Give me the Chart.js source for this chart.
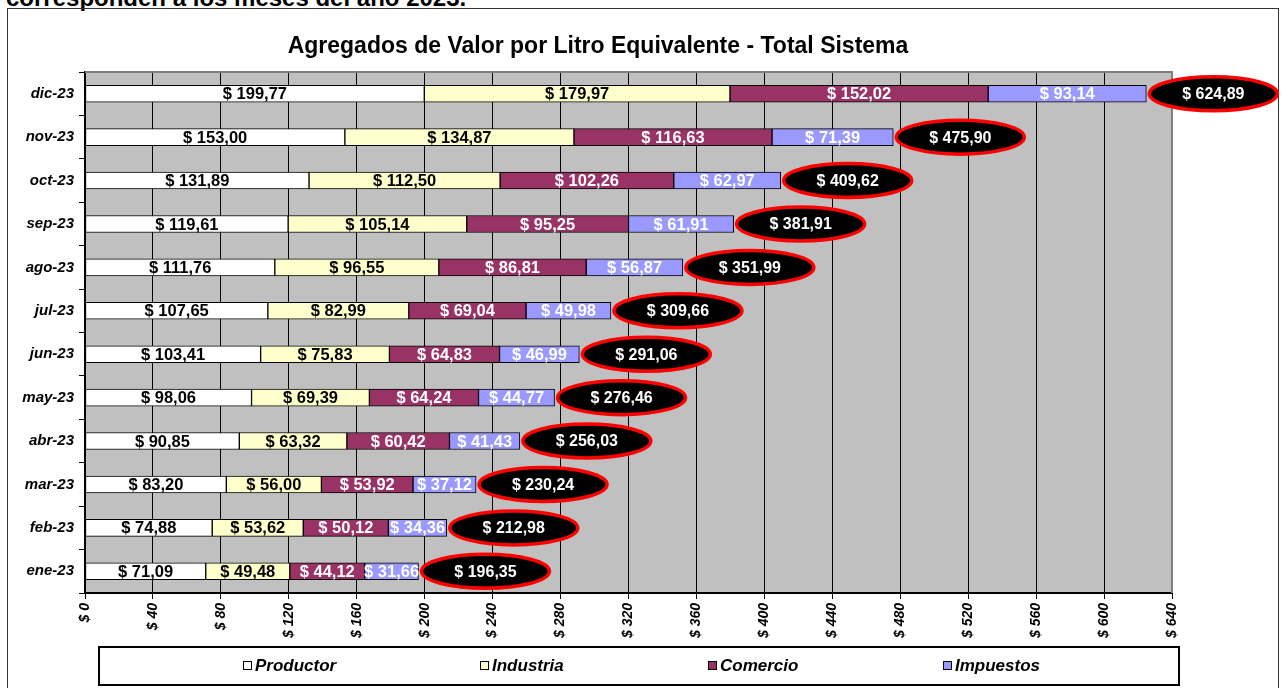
<!DOCTYPE html>
<html>
<head>
<meta charset="utf-8">
<script src="https://cdn.jsdelivr.net/npm/chart.js@4"></script>
<style>
  body { margin: 0; background: #fff; font-family: "Liberation Sans", Arial, sans-serif; }
  #top { position: absolute; left: 6px; top: -14px; font-size: 24px; font-weight: bold; line-height: 24px; white-space: nowrap; }
  #frame { position: absolute; left: 7px; top: 8px; width: 1270px; height: 700px; border: 1.5px solid #333; }
  canvas { position: absolute; left: 0; top: 0; }
</style>
</head>
<body>
<div id="top">corresponden a los meses del año 2023.</div>
<div id="frame"></div>
<canvas id="chart" width="1282" height="688"></canvas>
<script>
const months = ["dic-23", "nov-23", "oct-23", "sep-23", "ago-23", "jul-23", "jun-23", "may-23", "abr-23", "mar-23", "feb-23", "ene-23"];
const productor = [199.77, 153.00, 131.89, 119.61, 111.76, 107.65, 103.41, 98.06, 90.85, 83.20, 74.88, 71.09];
const industria = [179.97, 134.87, 112.50, 105.14, 96.55, 82.99, 75.83, 69.39, 63.32, 56.00, 53.62, 49.48];
const comercio = [152.02, 116.63, 102.26, 95.25, 86.81, 69.04, 64.83, 64.24, 60.42, 53.92, 50.12, 44.12];
const impuestos = [93.14, 71.39, 62.97, 61.91, 56.87, 49.98, 46.99, 44.77, 41.43, 37.12, 34.36, 31.66];
const totales = [624.89, 475.90, 409.62, 381.91, 351.99, 309.66, 291.06, 276.46, 256.03, 230.24, 212.98, 196.35];

const fmt = (v) => "$ " + v.toFixed(2).replace(".", ",");
const FONT = "'Liberation Sans', Arial, sans-serif";

// fondo gris y borde del area de trazado
const plotBg = {
  id: "plotBg",
  beforeDraw(chart) {
    const { ctx, chartArea: a } = chart;
    ctx.save();
    ctx.fillStyle = "#C0C0C0";
    ctx.fillRect(a.left, a.top, a.right - a.left, a.bottom - a.top);
    ctx.restore();
  },
  beforeDatasetsDraw(chart) {
    const { ctx, chartArea: a } = chart;
    ctx.save();
    ctx.strokeStyle = "#808080";
    ctx.lineWidth = 2;
    ctx.beginPath();
    ctx.moveTo(a.left, a.top);
    ctx.lineTo(a.right, a.top);
    ctx.lineTo(a.right, a.bottom);
    ctx.stroke();
    ctx.restore();
  },
};

// etiquetas de cada tramo, totales en elipse, titulo y leyenda
const extras = {
  id: "extras",
  afterDatasetsDraw(chart) {
    const ctx = chart.ctx;
    ctx.save();
    ctx.textAlign = "center";
    ctx.textBaseline = "middle";
    ctx.font = "bold 16.5px " + FONT;
    chart.data.datasets.forEach((ds, i) => {
      const meta = chart.getDatasetMeta(i);
      meta.data.forEach((el, j) => {
        ctx.fillStyle = ds.labelColor;
        ctx.fillText(fmt(ds.data[j]), (el.x + el.base) / 2, el.y + 1);
      });
    });

    const xs = chart.scales.x;
    const ys = chart.scales.y;
    totales.forEach((t, j) => {
      const cx = xs.getPixelForValue(t) + 67;
      const cy = ys.getPixelForValue(j);
      ctx.beginPath();
      ctx.ellipse(cx, cy, 64, 17, 0, 0, Math.PI * 2);
      ctx.fillStyle = "#000";
      ctx.fill();
      ctx.lineWidth = 3.5;
      ctx.strokeStyle = "#FF0000";
      ctx.stroke();
      ctx.fillStyle = "#fff";
      ctx.font = "bold 16px " + FONT;
      ctx.fillText(fmt(t), cx, cy + 1);
    });

    ctx.fillStyle = "#000";
    ctx.font = "bold 23px " + FONT;
    ctx.fillText("Agregados de Valor por Litro Equivalente - Total Sistema", 598, 47);

    // leyenda
    ctx.lineWidth = 2;
    ctx.strokeStyle = "#000";
    ctx.strokeRect(99, 647, 1080, 38);
    const items = [
      ["Productor", "#FFFFFF", 243],
      ["Industria", "#FFFFCC", 480],
      ["Comercio", "#993366", 708],
      ["Impuestos", "#9999FF", 943],
    ];
    ctx.textAlign = "left";
    ctx.font = "italic bold 17px " + FONT;
    items.forEach(([name, color, x]) => {
      ctx.fillStyle = color;
      ctx.fillRect(x, 661, 8, 8);
      ctx.lineWidth = 1;
      ctx.strokeRect(x + 0.5, 661.5, 8, 8);
      ctx.fillStyle = "#000";
      ctx.fillText(name, x + 12, 666);
    });
    ctx.restore();
  },
};

const mk = (label, data, color, labelColor) => ({
  label,
  data,
  backgroundColor: color,
  borderColor: "#000",
  borderWidth: 1,
  borderSkipped: false,
  barThickness: 17,
  labelColor,
});

new Chart(document.getElementById("chart"), {
  type: "bar",
  data: {
    labels: months,
    datasets: [
      mk("Productor", productor, "#FFFFFF", "#000"),
      mk("Industria", industria, "#FFFFCC", "#000"),
      mk("Comercio", comercio, "#993366", "#fff"),
      mk("Impuestos", impuestos, "#9999FF", "#fff"),
    ],
  },
  options: {
    indexAxis: "y",
    responsive: false,
    animation: false,
    layout: { padding: { top: 72, right: 110, left: 0, bottom: 0 } },
    plugins: {
      legend: { display: false },
      title: { display: false },
      tooltip: { enabled: false },
    },
    scales: {
      x: {
        stacked: true,
        min: 0,
        max: 640,
        afterFit: (s) => { s.height = 95; },
        ticks: {
          stepSize: 40,
          maxRotation: 90,
          minRotation: 90,
          padding: 4,
          color: "#000",
          font: { family: FONT, size: 14, weight: "bold", style: "italic" },
          callback: (v) => "$ " + v,
        },
        grid: { color: "#000", lineWidth: 1, tickLength: 6 },
        border: { color: "#000", width: 2 },
      },
      y: {
        stacked: true,
        afterFit: (s) => { s.width = 85; },
        ticks: {
          padding: 5,
          color: "#000",
          font: { family: FONT, size: 15, weight: "bold", style: "italic" },
        },
        grid: { offset: true, drawOnChartArea: false, color: "#000", tickLength: 6 },
        border: { color: "#000", width: 2 },
      },
    },
  },
  plugins: [plotBg, extras],
});
</script>
</body>
</html>
